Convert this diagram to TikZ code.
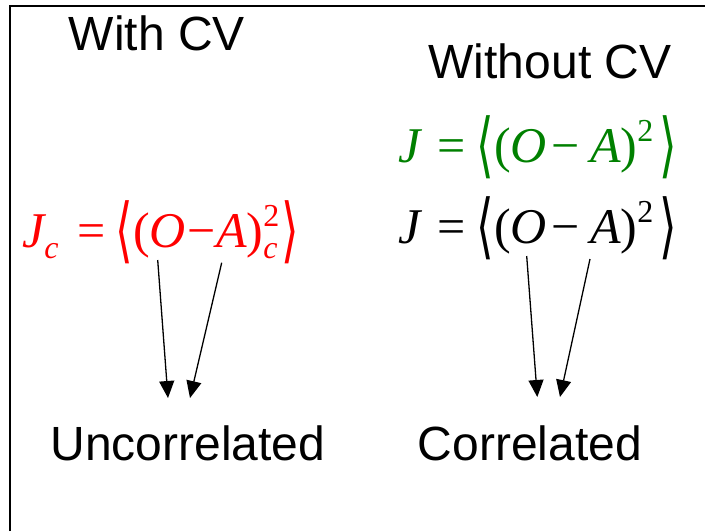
\documentclass[tikz,border=0pt]{standalone}
\usepackage{graphicx}
\usepackage{fontspec}
\setmainfont{Liberation Sans}
\newfontfamily\tms{Liberation Serif}
\newfontfamily\djv{DejaVu Sans}
\usetikzlibrary{arrows.meta}
\definecolor{eqgreen}{RGB}{0,128,0}
\definecolor{eqred}{RGB}{255,0,0}
\newcommand\vi[1]{{\itshape #1}}
\newcommand\smallsz{\fontsize{32}{32}\selectfont}
\newcommand\subx[1]{\raisebox{-0.22em}{\smallsz #1}}
\newcommand\supx[1]{\raisebox{0.42em}{\smallsz #1}}
\newcommand\lang{\raisebox{-0.15em}{\scalebox{0.9}[1.42]{\djv ⟨}}}
\newcommand\rang{\raisebox{-0.15em}{\scalebox{0.9}[1.42]{\djv ⟩}}}
\tikzset{
  label text/.style={font=\fontsize{48}{57}\selectfont, inner sep=0pt, anchor=base},
  formula/.style={font=\tms\fontsize{50}{60}\selectfont, inner sep=0pt, anchor=base west},
  conn/.style={line width=1.3pt, -{Triangle[length=17pt,width=15pt]}}
}
\begin{document}
\begin{tikzpicture}[x=1pt,y=-1pt]
\useasboundingbox (0,0) rectangle (705,531);
\draw[line width=2pt] (9.5,531) -- (9.5,6) -- (705,6);

\node[label text] (with) at (157,50) {With CV};
\node[label text] (without) at (550,78) {Without CV};
\node[label text] (unc) at (188,460) {Uncorrelated};
\node[label text] (cor) at (530,460) {Correlated};

\node[formula, text=eqred] (jc) at (22,247)
  {\vi{J}\subx{\vi{c}}\hspace{0.38em}=\hspace{0.2em}\lang(\vi{O}\hspace{0.02em}−\hspace{0.02em}\vi{A})\rlap{\supx{2}}\subx{\vi{c}}\hspace{0.08em}\rang};
\node[formula, text=eqgreen] (jg) at (398,162)
  {\vi{J}\hspace{0.34em}=\hspace{0.22em}\lang(\vi{O}\hspace{0.1em}−\hspace{0.2em}\vi{A})\supx{2}\hspace{0.12em}\rang};
\node[formula] (jb) at (398,243)
  {\vi{J}\hspace{0.34em}=\hspace{0.22em}\lang(\vi{O}\hspace{0.1em}−\hspace{0.2em}\vi{A})\supx{2}\hspace{0.12em}\rang};

\coordinate (s1) at (157.7,260);
\coordinate (s2) at (221.7,262.7);
\coordinate (s3) at (526.7,256);
\coordinate (s4) at (590,259);
\coordinate (e1) at (168,398);
\coordinate (e2) at (190,398);
\coordinate (e3) at (537.3,397);
\coordinate (e4) at (560,397);
\draw[conn] (s1) -- (e1);
\draw[conn] (s2) -- (e2);
\draw[conn] (s3) -- (e3);
\draw[conn] (s4) -- (e4);
\end{tikzpicture}
\end{document}
